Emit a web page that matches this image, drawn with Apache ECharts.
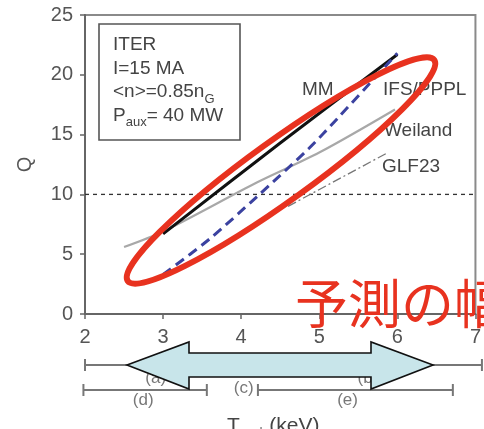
<!DOCTYPE html>
<html><head><meta charset="utf-8">
<script src="https://cdn.jsdelivr.net/npm/echarts@6/dist/echarts.min.js"></script>
<style>html,body{margin:0;padding:0;background:#fff;overflow:hidden}#c{width:484px;height:429px}</style>
</head><body><div id="c"></div>
<script>
// ---- data ----
const xTicks = [2, 3, 4, 5, 6, 7];
const yTicks = [0, 5, 10, 15, 20, 25];
const mmT = [3, 4.5, 6];            const mmQ = [6.7, 14.3, 21.7];
const ifsT = [3, 3.6, 4.2, 4.86, 5.24, 6]; const ifsQ = [3.3, 6.3, 9.8, 13.8, 16.4, 21.8];
const weiT = [2.5, 3, 4.2, 5, 5.97]; const weiQ = [5.6, 6.9, 11.0, 13.5, 17.1];
const glfT = [4.6, 5.88];            const glfQ = [9.0, 13.5];
const qRef = 10;
const seriesNames = ['MM', 'IFS/PPPL', 'Weiland', 'GLF23'];
// pedestal prediction ranges below the axis
const barRow = [1, 2, 2];
const barStart = [2.0, 1.98, 4.2];
const barEnd = [7.05, 3.55, 6.68];
const rangeNames = ['(a)', '(b)', '(c)', '(d)', '(e)'];
const rangeT = [2.9, 5.6, 4.02, 2.74, 5.34];
const rangeRow = [1, 1, 2, 2, 2];

const zip = (a, b) => a.map((v, i) => [v, b[i]]);
const FONT = 'Liberation Sans, Arial, sans-serif';
const chart = echarts.init(document.getElementById('c'), null, {renderer: 'canvas'});

const labelOffsets = [[0, 13], [0, 13], [0, -2], [0, 10], [0, 10]];

chart.setOption({
  animation: false,
  grid: [
    {left: 85, top: 15, width: 393, height: 299, show: true, borderColor: '#8a8a8a', borderWidth: 2, containLabel: false},
    {left: 85, top: 340, width: 393, height: 75, show: false}
  ],
  xAxis: [
    {gridIndex: 0, type: 'value', min: xTicks[0], max: xTicks[xTicks.length - 1], interval: 1,
     axisLine: {show: true, lineStyle: {color: '#666', width: 2}},
     axisTick: {show: true, inside: false, length: 5, lineStyle: {color: '#666', width: 1.5}},
     axisLabel: {fontFamily: FONT, fontSize: 20, color: '#555', margin: 13},
     splitLine: {show: false}},
    {gridIndex: 1, type: 'value', min: xTicks[0], max: xTicks[xTicks.length - 1], show: false}
  ],
  yAxis: [
    {gridIndex: 0, type: 'value', min: yTicks[0], max: yTicks[yTicks.length - 1], interval: 5,
     name: 'Q', nameLocation: 'middle', nameGap: 50, nameRotate: 90,
     nameTextStyle: {fontFamily: FONT, fontSize: 20, color: '#555'},
     axisLine: {show: true, lineStyle: {color: '#666', width: 2}},
     axisTick: {show: true, inside: false, length: 5, lineStyle: {color: '#666', width: 1.5}},
     axisLabel: {fontFamily: FONT, fontSize: 20, color: '#555', margin: 12},
     splitLine: {show: false}},
    {gridIndex: 1, type: 'value', min: 0, max: 3, inverse: true, show: false}
  ],
  series: [
    {type: 'line', name: 'ref', data: [[xTicks[0], qRef], [xTicks[xTicks.length - 1], qRef]], symbol: 'none',
     lineStyle: {color: '#333', width: 1.3, type: [4, 4]}, z: 1},
    {type: 'line', name: seriesNames[3], data: zip(glfT, glfQ), symbol: 'none',
     lineStyle: {color: '#777', width: 1.3, type: [9, 3, 2, 3]}, z: 2},
    {type: 'line', name: seriesNames[2], data: zip(weiT, weiQ), symbol: 'none', smooth: 0.3,
     lineStyle: {color: '#a8a8a8', width: 2.2}, z: 3},
    {type: 'line', name: seriesNames[0], data: zip(mmT, mmQ), symbol: 'none', smooth: 0.3,
     lineStyle: {color: '#111', width: 3}, z: 4},
    {type: 'line', name: seriesNames[1], data: zip(ifsT, ifsQ), symbol: 'none', smooth: 0.3,
     lineStyle: {color: '#3b42a0', width: 3, type: [10, 6]}, z: 5},
    {type: 'custom', xAxisIndex: 1, yAxisIndex: 1, clip: false,
     data: barRow.map((r, i) => [barStart[i], barEnd[i], r]),
     renderItem: function (params, api) {
       const a = api.coord([api.value(0), api.value(2)]);
       const b = api.coord([api.value(1), api.value(2)]);
       const st = {stroke: '#777', lineWidth: 2};
       return {type: 'group', children: [
         {type: 'line', shape: {x1: a[0], y1: a[1], x2: b[0], y2: b[1]}, style: st},
         {type: 'line', shape: {x1: a[0], y1: a[1] - 6, x2: a[0], y2: a[1] + 6}, style: st},
         {type: 'line', shape: {x1: b[0], y1: b[1] - 6, x2: b[0], y2: b[1] + 6}, style: st}
       ]};
     }},
    {type: 'scatter', xAxisIndex: 1, yAxisIndex: 1, symbolSize: 0,
     data: rangeNames.map((n, i) => ({value: [rangeT[i], rangeRow[i]], name: n,
       label: {show: true, position: 'inside', offset: labelOffsets[i], formatter: n,
         fontFamily: FONT, fontSize: 17, color: '#555'}}))}
  ],
  graphic: [
    {type: 'rect', shape: {x: 99, y: 24, width: 141, height: 116}, style: {fill: 'none', stroke: '#555', lineWidth: 1.6}, z: 50},
    {type: 'text', x: 113, y: 45, z: 50, style: {text: 'ITER', font: '19px ' + FONT, fill: '#444', verticalAlign: 'middle'}},
    {type: 'text', x: 113, y: 69, z: 50, style: {text: 'I=15 MA', font: '19px ' + FONT, fill: '#444', verticalAlign: 'middle'}},
    {type: 'text', x: 113, y: 92, z: 50, style: {text: '<n>=0.85n{s|G}', font: '19px ' + FONT, fill: '#444', verticalAlign: 'middle',
      rich: {s: {fontSize: 13, fontFamily: FONT, fill: '#444', padding: [14, 0, 0, 0]}}}},
    {type: 'text', x: 113, y: 116, z: 50, style: {text: 'P{s|aux}= 40 MW', font: '19px ' + FONT, fill: '#444', verticalAlign: 'middle',
      rich: {s: {fontSize: 13, fontFamily: FONT, fill: '#444', padding: [12, 0, 0, 0]}}}},
    {type: 'text', x: 302, y: 90, z: 50, style: {text: seriesNames[0], font: '19px ' + FONT, fill: '#444', verticalAlign: 'middle'}},
    {type: 'text', x: 383, y: 90, z: 50, style: {text: seriesNames[1], font: '19px ' + FONT, fill: '#444', verticalAlign: 'middle'}},
    {type: 'text', x: 384, y: 131, z: 50, style: {text: seriesNames[2], font: '19px ' + FONT, fill: '#444', verticalAlign: 'middle'}},
    {type: 'text', x: 382, y: 167, z: 50, style: {text: seriesNames[3], font: '19px ' + FONT, fill: '#444', verticalAlign: 'middle'}},
    {type: 'text', x: 227, y: 414, z: 50, style: {text: 'T{s|ped} (keV)', font: '21px ' + FONT, fill: '#444', verticalAlign: 'top',
      rich: {s: {fontSize: 13, fontFamily: FONT, fill: '#666', padding: [12, 1, 0, 1]}}}},
    {type: 'ellipse', x: 281, y: 170.5, rotation: 35.8 * Math.PI / 180, z: 100,
     shape: {cx: 0, cy: 0, rx: 189, ry: 30}, style: {fill: 'none', stroke: '#e8321f', lineWidth: 6}},
    {type: 'polygon', z: 100,
     shape: {points: [[127, 365], [189, 342], [189, 353], [371, 353], [371, 342], [433, 365], [371, 389], [371, 377], [189, 377], [189, 389]]},
     style: {fill: '#c8e5ea', stroke: '#111', lineWidth: 1.6}},
    {type: 'text', x: 295, y: 304, z: 100, style: {text: '予測の幅', font: '53px "Noto Sans CJK JP"', fill: '#e8321f', verticalAlign: 'middle'}}
  ]
});
</script></body></html>
